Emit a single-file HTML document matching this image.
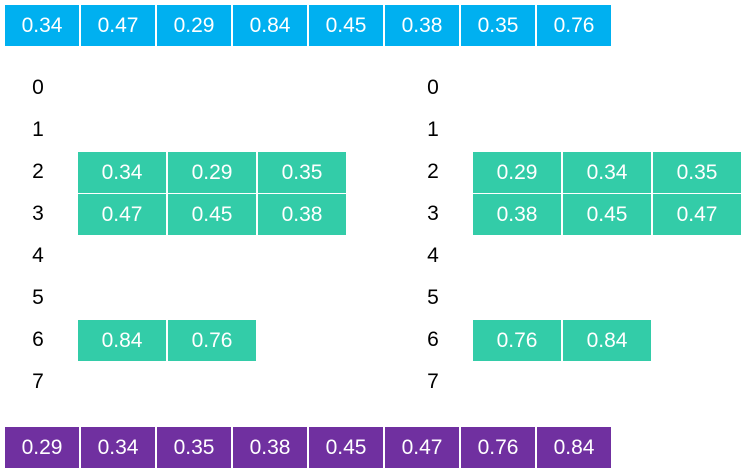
<!DOCTYPE html>
<html><head><meta charset="utf-8">
<style>
html,body{margin:0;padding:0;background:#fff;width:746px;height:473px;overflow:hidden;font-family:"Liberation Sans",sans-serif;}
.c{position:absolute;color:#fff;font-size:21px;display:flex;align-items:center;justify-content:center;box-sizing:border-box;border-right:1px solid #fff;border-left:1px solid #fff;}
.l{position:absolute;color:#000;font-size:21px;width:20px;text-align:center;}
</style></head>
<body>
<div id="root"></div>
<script>
const inputValues=[0.34,0.47,0.29,0.84,0.45,0.38,0.35,0.76];
const bucketIndices=[0,1,2,3,4,5,6,7];
const bucketsUnsorted=[[],[],[0.34,0.29,0.35],[0.47,0.45,0.38],[],[],[0.84,0.76],[]];
const bucketsSorted=[[],[],[0.29,0.34,0.35],[0.38,0.45,0.47],[],[],[0.76,0.84],[]];
const outputValues=[0.29,0.34,0.35,0.38,0.45,0.47,0.76,0.84];
const root=document.getElementById('root');
function cell(x,y,w,h,bg,txt,name){
  const d=document.createElement('div');
  d.className='c';
  d.style.left=x+'px';d.style.top=y+'px';d.style.width=w+'px';d.style.height=h+'px';d.style.background=bg;
  d.textContent=txt.toFixed(2);
  
  
  root.appendChild(d);
}
function row(vals,y,bg,prefix){
  vals.forEach((v,i)=>cell(4+i*76,y,76,41,bg,v,prefix+'-cell-'+i));
}
row(inputValues,5,'#00B0F0','input');
row(outputValues,427,'#7030A0','output');
function panel(buckets,lx,cx,prefix){
  bucketIndices.forEach((b,i)=>{
    const cy=87+i*42;
    const l=document.createElement('div');
    l.className='l';
    l.style.left=lx+'px';l.style.top=(cy-11)+'px';
    l.textContent=b;
    
    
    root.appendChild(l);
    buckets[i].forEach((v,j)=>cell(cx+j*90,cy-19,90,41,'#33CCA8',v,prefix+'-bucket-'+b+'-item-'+j));
  });
}
panel(bucketsUnsorted,28,77,'unsorted');
panel(bucketsSorted,423,472,'sorted');
</script>
</body></html>
